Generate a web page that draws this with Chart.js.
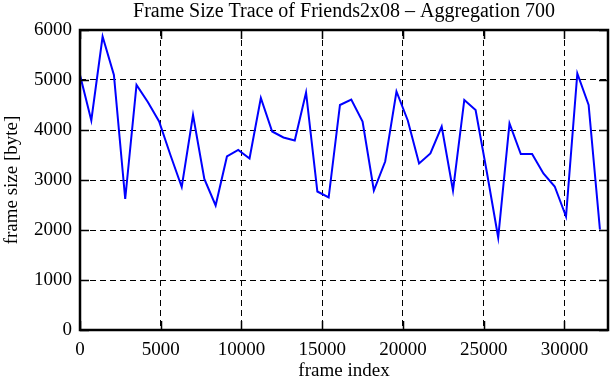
<!DOCTYPE html>
<html>
<head>
<meta charset="utf-8">
<script src="https://cdn.jsdelivr.net/npm/chart.js@4.4.0/dist/chart.umd.min.js"></script>
<style>
  body { margin: 0; background: #fff; }
  #wrap { width: 611px; height: 380px; }
</style>
</head>
<body>
<div id="wrap"><canvas id="traceChart" width="611" height="380"></canvas></div>
<script>
// frame index of each aggregated sample (aggregation 700)
var frameIndex = [0, 700, 1400, 2100, 2800, 3500, 4200, 4900, 5600, 6300,
  7000, 7700, 8400, 9100, 9800, 10500, 11200, 11900, 12600, 13300,
  14000, 14700, 15400, 16100, 16800, 17500, 18200, 18900, 19600, 20300,
  21000, 21700, 22400, 23100, 23800, 24500, 25200, 25900, 26600, 27300,
  28000, 28700, 29400, 30100, 30800, 31500, 32200];

// frame size [byte]
var frameSize = [5100, 4190, 5870, 5100, 2620, 4900, 4560, 4170, 3500, 2860,
  4300, 3020, 2490, 3470, 3600, 3430, 4640, 3970, 3850, 3790,
  4750, 2770, 2650, 4500, 4610, 4170, 2790, 3370, 4770, 4190,
  3330, 3530, 4070, 2790, 4600, 4400, 3150, 1850, 4130, 3520,
  3520, 3130, 2870, 2270, 5130, 4500, 2010];

var xTicks = [0, 5000, 10000, 15000, 20000, 25000, 30000];
var yTicks = [0, 1000, 2000, 3000, 4000, 5000, 6000];

var serif = "'Liberation Serif', 'DejaVu Serif', serif";

var points = frameIndex.map(function (f, i) {
  return { x: f, y: frameSize[i] };
});

// box round the plot with inward ticks on every side (gnuplot style)
var frameBox = {
  id: "frameBox",
  afterDraw: function (chart) {
    var ctx = chart.ctx;
    var a = chart.chartArea;
    var xs = chart.scales.x, ys = chart.scales.y;
    var len = 9;
    ctx.save();
    ctx.strokeStyle = "#000";
    ctx.lineWidth = 1.5;
    ctx.beginPath();
    xTicks.forEach(function (t) {
      var px = Math.round(xs.getPixelForValue(t)) + 0.5;
      ctx.moveTo(px, a.bottom); ctx.lineTo(px, a.bottom - len);
      ctx.moveTo(px, a.top); ctx.lineTo(px, a.top + len);
    });
    yTicks.forEach(function (t) {
      var py = Math.round(ys.getPixelForValue(t)) + 0.5;
      ctx.moveTo(a.left, py); ctx.lineTo(a.left + len, py);
      ctx.moveTo(a.right, py); ctx.lineTo(a.right - len, py);
    });
    ctx.stroke();
    ctx.lineWidth = 2.5;
    ctx.strokeRect(a.left, a.top, a.right - a.left, a.bottom - a.top);
    ctx.restore();
  }
};

function plain(v) { return String(v); }

var ctx = document.getElementById("traceChart").getContext("2d");
var traceChart = new Chart(ctx, {
  type: "line",
  data: {
    datasets: [{
      data: points,
      borderColor: "rgb(0, 0, 255)",
      borderWidth: 2,
      pointRadius: 0,
      tension: 0,
      fill: false
    }]
  },
  options: {
    responsive: false,
    animation: false,
    layout: { padding: { left: 0, right: 3, top: 0, bottom: 0 } },
    plugins: {
      legend: { display: false },
      tooltip: { enabled: false },
      title: {
        display: true,
        fullSize: false,
        text: "Frame Size Trace of Friends2x08 \u2013 Aggregation 700",
        color: "#000",
        font: { family: serif, size: 20, weight: "normal" },
        padding: { top: 0, bottom: 6 }
      }
    },
    scales: {
      x: {
        type: "linear",
        min: 0,
        max: 32700,
        afterFit: function (s) { s.height = 50; },
        afterBuildTicks: function (s) {
          s.ticks = xTicks.map(function (v) { return { value: v }; });
        },
        ticks: {
          color: "#000",
          font: { family: serif, size: 19 },
          padding: 9,
          maxRotation: 0,
          autoSkip: false,
          callback: plain
        },
        grid: { color: "#000", lineWidth: 1, drawTicks: false },
        border: { display: false, dash: [6, 4] },
        title: {
          display: true,
          text: "frame index",
          color: "#000",
          font: { family: serif, size: 19, lineHeight: 1.0 },
          padding: { top: 0, bottom: -1 }
        }
      },
      y: {
        min: 0,
        max: 6000,
        afterFit: function (s) { s.width = 80; },
        afterBuildTicks: function (s) {
          s.ticks = yTicks.map(function (v) { return { value: v }; });
        },
        ticks: {
          color: "#000",
          font: { family: serif, size: 19 },
          padding: 8,
          callback: plain
        },
        grid: { color: "#000", lineWidth: 1, drawTicks: false },
        border: { display: false, dash: [6, 4] },
        title: {
          display: true,
          text: "frame size [byte]",
          color: "#000",
          font: { family: serif, size: 19 },
          padding: { top: 1, bottom: 0 }
        }
      }
    }
  },
  plugins: [frameBox]
});
</script>
</body>
</html>
